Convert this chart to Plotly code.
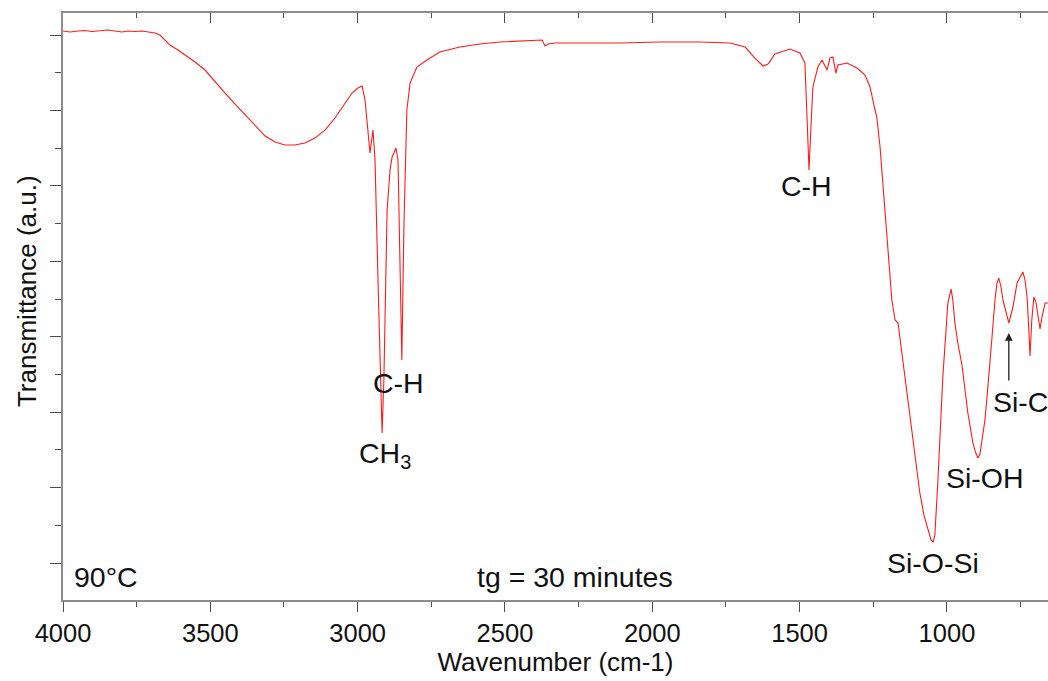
import plotly.graph_objects as go

# Wavenumber (cm-1) and transmittance (a.u.), grouped by region
wn_1 = [4000, 3976, 3949, 3925, 3902, 3874, 3847, 3824, 3800, 3779, 3756, 3732, 3705, 3688, 3671]
tr_1 = [80.53, 80.40, 80.53, 80.60, 80.46, 80.53, 80.66, 80.53, 80.40, 80.53, 80.46, 80.53, 80.40, 80.26, 80.00]

wn_2 = [3654, 3637, 3610, 3586, 3552, 3518, 3484, 3450, 3416, 3382, 3348, 3314, 3280, 3247, 3213,
        3179, 3145, 3111, 3077, 3043, 3019, 2999, 2985]
tr_2 = [79.34, 78.67, 78.01, 77.35, 76.42, 75.36, 73.77, 72.31, 70.85, 69.39, 67.94, 66.61, 65.81, 65.42, 65.42,
        65.68, 66.34, 67.40, 69.00, 70.98, 72.31, 72.97, 73.24]

wn_3 = [2975, 2968, 2958, 2948, 2941, 2931, 2917, 2911, 2900, 2890, 2883, 2877, 2870, 2863, 2856,
        2850, 2843, 2833, 2822, 2799, 2765]
tr_3 = [71.38, 68.73, 64.36, 67.40, 63.43, 47.52, 27.23, 34.26, 56.80, 62.10, 63.83, 64.36, 65.02, 63.43, 50.17,
        36.91, 54.54, 70.06, 73.64, 75.76, 76.68]

wn_4 = [2721, 2653, 2585, 2517, 2449, 2388, 2374, 2364, 2354, 2330, 2245, 2110, 1974, 1838, 1736]
tr_4 = [77.74, 78.41, 78.81, 79.07, 79.20, 79.34, 79.34, 78.54, 78.81, 78.94, 78.94, 78.94, 79.07, 79.07, 78.94]

wn_5 = [1685, 1652, 1624, 1607, 1584, 1533, 1499, 1482, 1475, 1468, 1462, 1455, 1438, 1424, 1414, 1407,
        1397, 1387, 1377, 1370, 1339, 1305, 1278, 1261, 1244, 1238, 1227, 1210, 1200, 1187, 1176, 1166]
tr_5 = [78.41, 76.95, 75.89, 76.15, 77.48, 78.14, 77.61, 76.29, 68.73, 62.10, 67.40, 73.11, 75.76, 76.68, 75.89, 75.36,
        76.95, 77.08, 74.96, 76.02, 76.29, 75.62, 74.70, 73.11, 70.06, 69.13, 65.15, 57.20, 51.50, 44.87, 42.22, 41.82]

wn_6 = [1146, 1126, 1109, 1092, 1078, 1064, 1054, 1047, 1041, 1031, 1020, 1014, 1003, 997, 986, 980, 973, 963,
        949, 939, 929, 922, 912, 902, 895, 888, 881, 871, 864, 854, 847, 837, 830, 824, 817, 810, 800, 790,
        783, 776, 762, 752, 742, 735, 728, 722, 718, 712, 705, 698, 691, 684, 678, 667, 657]
tr_6 = [35.59, 29.36, 24.32, 19.28, 16.36, 14.37, 13.05, 12.78, 13.71, 20.61, 28.96, 34.66, 40.89, 44.47, 46.32, 44.87, 41.82, 39.17,
        36.25, 32.94, 29.89, 28.30, 25.91, 24.58, 23.92, 24.45, 26.31, 28.96, 32.01, 36.25, 39.96, 44.87, 47.12, 47.78, 46.72, 44.87, 43.28, 41.82,
        42.88, 43.94, 47.12, 47.78, 48.58, 47.52, 45.26, 40.89, 37.44, 42.22, 45.26, 44.60, 42.48, 41.02, 42.48, 44.47, 44.47]

wavenumber = wn_1 + wn_2 + wn_3 + wn_4 + wn_5 + wn_6
transmittance = tr_1 + tr_2 + tr_3 + tr_4 + tr_5 + tr_6
assert len(wavenumber) == len(transmittance)

# Peak labels: (text, wavenumber, transmittance)
peak_labels = [
    ("CH<sub>3</sub>", 2907, 24.3),
    ("C-H", 2863, 33.9),
    ("C-H", 1475, 60.0),
    ("Si-O-Si", 1047, 10.0),
    ("Si-OH", 871, 21.3),
    ("Si-C", 752, 31.3),
]
arrow_wn, arrow_tail, arrow_head = 790, 34.0, 40.5

x_range = [4000, 657]
y_range = [5.095, 82.92]

FONT = "Liberation Sans, Arial, sans-serif"
TXT = "#111111"
AXIS = "#8c8c8c"
TICK = "#4d4d4d"
LABEL_SIZE = 28.5

fig = go.Figure()
fig.add_trace(go.Scatter(x=wavenumber, y=transmittance, mode="lines",
                         line=dict(color="#ff1a1a", width=1.1), showlegend=False))
# invisible companion trace so the top (mirror) axis is drawn
fig.add_trace(go.Scatter(x=wavenumber, y=transmittance, mode="lines", xaxis="x2",
                         line=dict(width=0), opacity=0, hoverinfo="skip", showlegend=False))

for text, xv, yv in peak_labels:
    fig.add_annotation(x=xv, y=yv, text=text, showarrow=False,
                       font=dict(family=FONT, size=LABEL_SIZE, color=TXT))

fig.add_annotation(x=arrow_wn, y=arrow_head, ax=arrow_wn, ay=arrow_tail,
                   xref="x", yref="y", axref="x", ayref="y", text="",
                   showarrow=True, arrowhead=2, arrowsize=1.2, arrowwidth=1.3, arrowcolor="#222222")

fig.add_annotation(x=3969, y=8.1, text="90°C", showarrow=False, xanchor="left",
                   font=dict(family=FONT, size=LABEL_SIZE, color=TXT))
fig.add_annotation(x=2262, y=8.1, text="tg = 30 minutes", showarrow=False,
                   font=dict(family=FONT, size=LABEL_SIZE, color=TXT))

# y-axis title placed as rotated text
fig.add_annotation(xref="paper", yref="paper", x=-0.0365, y=0.5264, text="Transmittance (a.u.)",
                   textangle=-90, showarrow=False, xanchor="center", yanchor="middle",
                   font=dict(family=FONT, size=26, color=TXT))

fig.update_layout(
    width=1048, height=681,
    margin=dict(l=63, r=0, t=13, b=81),
    paper_bgcolor="white", plot_bgcolor="white",
    font=dict(family=FONT, color=TXT),
    xaxis=dict(
        range=x_range, showgrid=False, zeroline=False,
        showline=True, linecolor=AXIS, linewidth=1.6,
        ticks="outside", ticklen=10, tickwidth=1.4, tickcolor=TICK,
        tick0=0, dtick=500,
        minor=dict(dtick=250, ticks="outside", ticklen=5, tickwidth=1.4, tickcolor=TICK),
        tickfont=dict(family=FONT, size=25.5, color=TXT),
        title=dict(text="Wavenumber (cm-1)", font=dict(family=FONT, size=26, color=TXT), standoff=4),
    ),
    xaxis2=dict(
        range=x_range, overlaying="x", side="top", anchor="y",
        showgrid=False, zeroline=False, showticklabels=False,
        showline=True, linecolor=AXIS, linewidth=1.6,
        ticks="inside", ticklen=10, tickwidth=1.4, tickcolor=TICK,
        tick0=0, dtick=500,
        minor=dict(dtick=250, ticks="inside", ticklen=5, tickwidth=1.4, tickcolor=TICK),
    ),
    yaxis=dict(
        range=y_range, showgrid=False, zeroline=False,
        showline=True, linecolor=AXIS, linewidth=1.6,
        ticks="outside", ticklen=11, tickwidth=1.4, tickcolor=TICK,
        tick0=10, dtick=10, showticklabels=False,
        minor=dict(dtick=5, ticks="outside", ticklen=6, tickwidth=1.4, tickcolor=TICK),
    ),
)

fig.write_html("out.html")
